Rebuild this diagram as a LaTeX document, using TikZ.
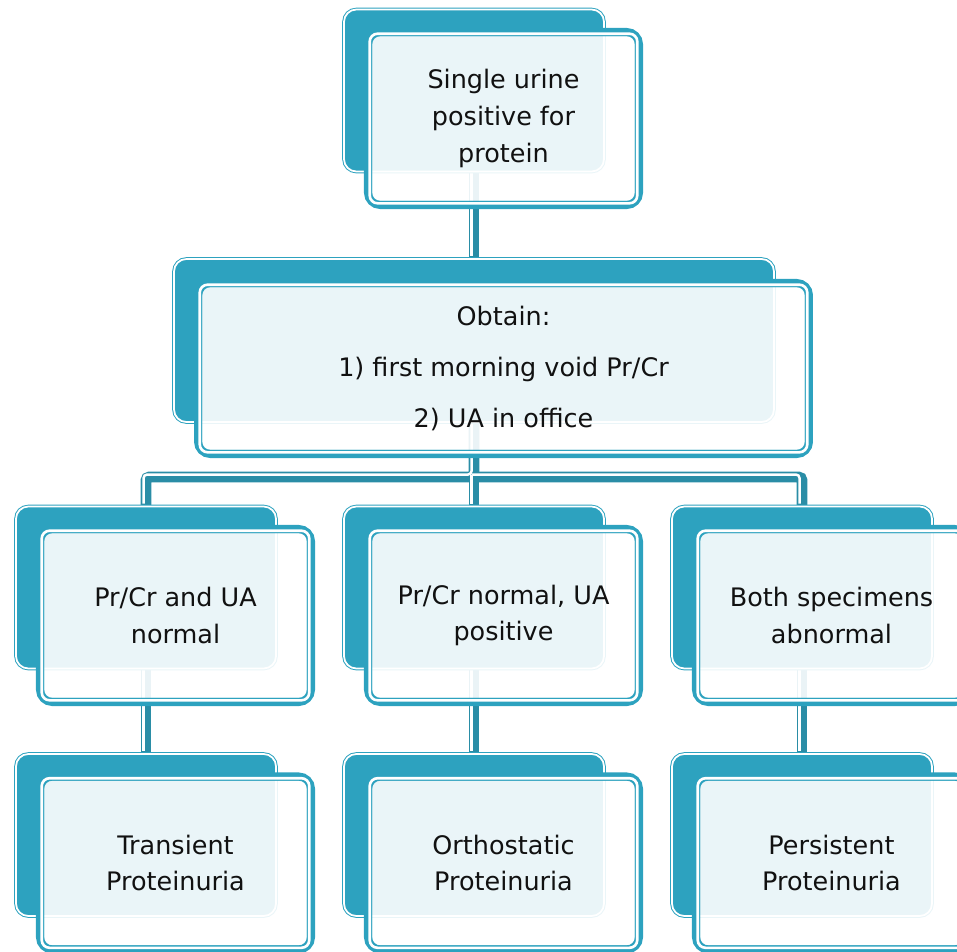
\documentclass[tikz,border=0pt]{standalone}
\usepackage{fontspec}
\setmainfont{DejaVu Sans}
\usetikzlibrary{positioning,backgrounds}
\definecolor{upTeal}{HTML}{2DA2BF}
\definecolor{upLink}{HTML}{2A8DA6}
\definecolor{upInk} {HTML}{111111}

\tikzset{
  backcard/.style={rectangle,rounded corners=7pt,fill=upTeal,draw=upTeal,
    double=white,line width=0.55pt,double distance=1pt,inner sep=0pt,
    minimum width=5.20cm,minimum height=3.24cm},
  backwide/.style={minimum width=12.0cm,minimum height=3.26cm},
  frontcard/.style={rectangle,rounded corners=7pt,draw=upTeal,line width=4.6pt,
    fill=white,fill opacity=0.9,text opacity=1,text=upInk,align=center,
    minimum width=5.42cm,minimum height=3.46cm,inner sep=2pt,
    font=\fontsize{14.5}{21}\selectfont},
  frontwide/.style={minimum width=12.22cm,minimum height=3.42cm},
  rim/.style={draw=upTeal,double=white,line width=0.6pt,double distance=1.5pt,
    rounded corners=4.5pt},
  link/.style={draw=upLink,line width=6.2pt,rounded corners=2pt},
  linkshine/.style={draw=white,line width=1.4pt,rounded corners=2pt,
    transform canvas={shift={(-1.4pt,1.4pt)}}},
}

\begin{document}
\begin{tikzpicture}[x=0.02cm,y=-0.02cm]
  \path[use as bounding box] (0,0) rectangle (957,951);
  \clip (0,0) rectangle (957,951);

  % first finding
  \node[backcard] (qBack) at (474,90.5) {};
  \node[frontcard] (q) at ([shift={(29.5,28)}]qBack.center)
    {Single urine\\positive for\\protein};

  % what to obtain
  \node[backcard,backwide] (oBack) at (474,340.5) {};
  \node[frontcard,frontwide] (o) at ([shift={(29.5,28)}]oBack.center)
    {Obtain:\\[8pt]1) first morning void Pr/Cr\\[8pt]2) UA in office};

  % results
  \node[backcard] (r1Back) at (146,587.5) {};
  \node[frontcard] (r1) at ([shift={(29.5,28)}]r1Back.center)
    {Pr/Cr and UA\\normal};
  \node[backcard] (r2Back) at (474,587.5) {};
  \node[frontcard] (r2) at ([shift={(29.5,28)}]r2Back.center)
    {Pr/Cr normal, UA\\positive};
  \node[backcard] (r3Back) at (802,587.5) {};
  \node[frontcard] (r3) at ([shift={(29.5,28)}]r3Back.center)
    {Both specimens\\abnormal};

  % diagnoses
  \node[backcard] (p1Back) at (146,835) {};
  \node[frontcard] (p1) at ([shift={(29.5,28)}]p1Back.center)
    {Transient\\Proteinuria};
  \node[backcard] (p2Back) at (474,835) {};
  \node[frontcard] (p2) at ([shift={(29.5,28)}]p2Back.center)
    {Orthostatic\\Proteinuria};
  \node[backcard] (p3Back) at (802,835) {};
  \node[frontcard] (p3) at ([shift={(29.5,28)}]p3Back.center)
    {Persistent\\Proteinuria};

  \foreach \f in {q,o,r1,r2,r3,p1,p2,p3}
    \draw[rim] ([shift={(3.25pt,3.25pt)}]\f.south west)
      rectangle ([shift={(-3.25pt,-3.25pt)}]\f.north east);

  % connectors behind the cards
  \begin{pgfonlayer}{background}
    \coordinate (split) at (474,477);
    \foreach \s in {link,linkshine} {
      \draw[\s] (qBack.south) -- (oBack.north);
      \draw[\s] (oBack.south) -- (split) -| (r1Back.north);
      \draw[\s] (split) -| (r3Back.north);
      \draw[\s] (split) -- (r2Back.north);
      \draw[\s] (r1Back.south) -- (p1Back.north);
      \draw[\s] (r2Back.south) -- (p2Back.north);
      \draw[\s] (r3Back.south) -- (p3Back.north);
    }
  \end{pgfonlayer}
\end{tikzpicture}
\end{document}
